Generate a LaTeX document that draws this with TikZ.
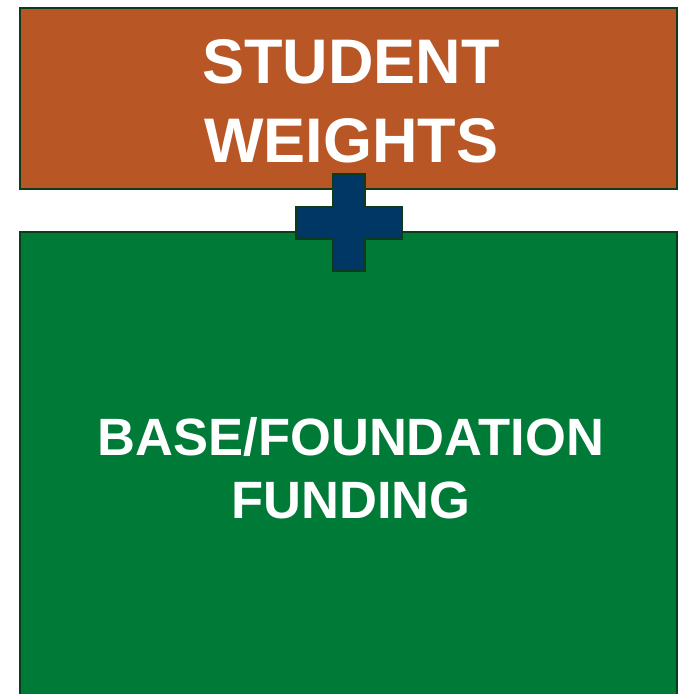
\documentclass[tikz,border=0pt]{standalone}
\usepackage{fontspec}
\setmainfont{Liberation Sans}
\definecolor{rust}{HTML}{B85626}
\definecolor{fgreen}{HTML}{007A37}
\definecolor{navy}{HTML}{003764}
\definecolor{edge}{HTML}{0E3B1C}
\tikzset{
  panel/.style={draw=edge, line width=2pt},
  lbl/.style={text=white, align=center, font=\bfseries, inner sep=0pt}
}
\begin{document}
\begin{tikzpicture}[x=1pt,y=-1pt]
\useasboundingbox (0,0) rectangle (681,694);
\fill[white] (0,0) rectangle (681,694);
\draw[panel, fill=rust] (20,8) rectangle (677,189);
\draw[panel, fill=fgreen] (20,232) rectangle (677,700);
\draw[panel, fill=navy] (333,174) -- (365,174) -- (365,207) -- (402,207) -- (402,239) -- (365,239) -- (365,271) -- (333,271) -- (333,239) -- (296,239) -- (296,207) -- (333,207) -- cycle;
\node[lbl, font=\fontsize{63}{79}\selectfont\bfseries] (sw) at (351,101) {STUDENT\\WEIGHTS};
\node[lbl, font=\fontsize{52.5}{63}\selectfont\bfseries] (bf) at (351,468) {BASE/FOUNDATION\\FUNDING};
\end{tikzpicture}
\end{document}
